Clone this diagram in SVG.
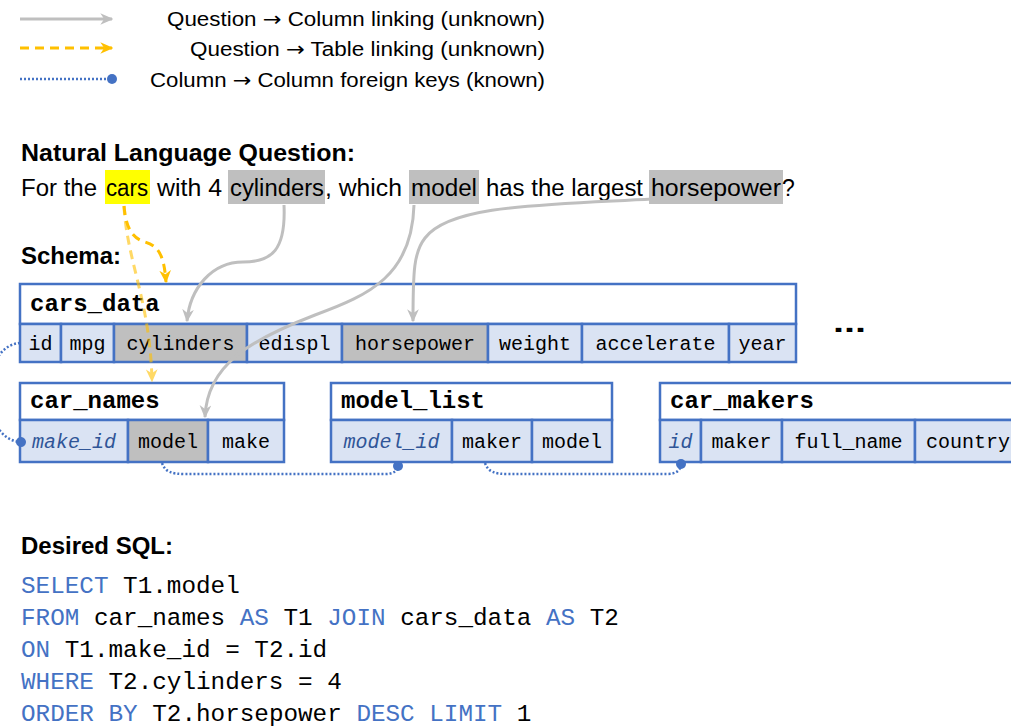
<svg xmlns="http://www.w3.org/2000/svg" width="1011" height="727" viewBox="0 0 1011 727">
<style>
.sans{font-family:"Liberation Sans",Arial,sans-serif;fill:#000}
.arr{font-family:"DejaVu Sans",sans-serif}
.hd{font-family:"Liberation Sans",Arial,sans-serif;font-weight:bold;font-size:23px;fill:#000}
.sql{font-family:"Liberation Mono","DejaVu Sans Mono",monospace;font-size:24.3px;fill:#000}
.kw{fill:#4472C4}
.title{font-family:"Liberation Mono","DejaVu Sans Mono",monospace;font-size:24px;font-weight:bold;fill:#000}
.col{font-family:"Liberation Mono","DejaVu Sans Mono",monospace;font-size:20px;fill:#000;text-anchor:middle}
.key{font-style:italic;fill:#2F5597}
.hdr{fill:#fff;stroke:#4472C4;stroke-width:2.5}
.cell{fill:#DAE3F3;stroke:#4472C4;stroke-width:2.5}
.sel{fill:#BFBFBF;stroke:#4472C4;stroke-width:2.5}
.gray{fill:none;stroke:#BFBFBF;stroke-width:3}
.yel{fill:none;stroke:#FFC000;stroke-width:3;stroke-dasharray:9 6}
.fk{fill:none;stroke:#4472C4;stroke-width:2.5;stroke-dasharray:2 2}
</style>
<defs>
<marker id="ag" viewBox="0 0 10 10" refX="9" refY="5" markerWidth="13" markerHeight="13" markerUnits="userSpaceOnUse" orient="auto"><path d="M0,0.5 L10,5 L0,9.5 L3,5 z" fill="#BFBFBF"/></marker>
<marker id="ay" viewBox="0 0 10 10" refX="9" refY="5" markerWidth="13" markerHeight="13" markerUnits="userSpaceOnUse" orient="auto"><path d="M0,0.5 L10,5 L0,9.5 L3,5 z" fill="#FFC000"/></marker>
<marker id="dot" viewBox="0 0 10 10" refX="5" refY="5" markerWidth="10" markerHeight="10" markerUnits="userSpaceOnUse" orient="auto"><circle cx="5" cy="5" r="5" fill="#4472C4"/></marker>
</defs>
<rect width="1011" height="727" fill="#fff"/>

<g id="legend">
<path class="gray" d="M20,19 L112,19" marker-end="url(#ag)"/>
<path class="yel" d="M20,48 L112,48" marker-end="url(#ay)"/>
<path class="fk" d="M20,79 L112,79" marker-end="url(#dot)"/>
<text class="sans" font-size="20" x="545" y="26" text-anchor="end" textLength="378" lengthAdjust="spacingAndGlyphs">Question <tspan class="arr">→</tspan> Column linking (unknown)</text>
<text class="sans" font-size="20" x="545" y="56" text-anchor="end" textLength="355" lengthAdjust="spacingAndGlyphs">Question <tspan class="arr">→</tspan> Table linking (unknown)</text>
<text class="sans" font-size="20" x="545" y="87" text-anchor="end" textLength="395" lengthAdjust="spacingAndGlyphs">Column <tspan class="arr">→</tspan> Column foreign keys (known)</text>
</g>

<g id="question">
<text class="hd" x="21" y="161" textLength="334" lengthAdjust="spacingAndGlyphs">Natural Language Question:</text>
<rect x="105" y="170" width="45" height="34" fill="#FFFF00"/>
<rect x="228" y="170" width="97" height="34" fill="#BFBFBF"/>
<rect x="409" y="170" width="70" height="34" fill="#BFBFBF"/>
<rect x="649" y="170" width="134" height="34" fill="#BFBFBF"/>
<text class="sans" font-size="23" y="196"><tspan x="21" textLength="76" lengthAdjust="spacingAndGlyphs">For the</tspan><tspan x="106" textLength="42" lengthAdjust="spacingAndGlyphs">cars</tspan><tspan x="157" textLength="65" lengthAdjust="spacingAndGlyphs">with 4</tspan><tspan x="230" textLength="94" lengthAdjust="spacingAndGlyphs">cylinders</tspan><tspan x="325" textLength="77" lengthAdjust="spacingAndGlyphs">, which</tspan><tspan x="411" textLength="66" lengthAdjust="spacingAndGlyphs">model</tspan><tspan x="486" textLength="157" lengthAdjust="spacingAndGlyphs">has the largest</tspan><tspan x="651" textLength="130" lengthAdjust="spacingAndGlyphs">horsepower</tspan><tspan x="782">?</tspan></text>
<text class="hd" x="21" y="264" textLength="100" lengthAdjust="spacingAndGlyphs">Schema:</text>
</g>

<g id="cars_data">
<rect class="hdr" x="20" y="284" width="776" height="40"/>
<text class="title" x="30" y="311">cars_data</text>
<rect class="cell" x="20" y="324" width="41" height="38"/>
<rect class="cell" x="61" y="324" width="53" height="38"/>
<rect class="sel" x="114" y="324" width="133" height="38"/>
<rect class="cell" x="247" y="324" width="95" height="38"/>
<rect class="sel" x="342" y="324" width="146" height="38"/>
<rect class="cell" x="488" y="324" width="94" height="38"/>
<rect class="cell" x="582" y="324" width="147" height="38"/>
<rect class="cell" x="729" y="324" width="67" height="38"/>
<text class="col" x="40.5" y="350">id</text>
<text class="col" x="87.5" y="350">mpg</text>
<text class="col" x="180.5" y="350">cylinders</text>
<text class="col" x="294.5" y="350">edispl</text>
<text class="col" x="415" y="350">horsepower</text>
<text class="col" x="535" y="350">weight</text>
<text class="col" x="655.5" y="350">accelerate</text>
<text class="col" x="762.5" y="350">year</text>
</g>

<g id="more">
<text x="833" y="332" font-family="Liberation Sans,Arial,sans-serif" font-weight="bold" font-size="28" textLength="33" lengthAdjust="spacingAndGlyphs">...</text>
</g>

<g id="car_names">
<rect class="hdr" x="20" y="383" width="264" height="37"/>
<text class="title" x="30" y="408">car_names</text>
<rect class="cell" x="20" y="420" width="108" height="42"/>
<rect class="sel" x="128" y="420" width="80" height="42"/>
<rect class="cell" x="208" y="420" width="76" height="42"/>
<text class="col key" x="74" y="448">make_id</text>
<text class="col" x="168" y="448">model</text>
<text class="col" x="246" y="448">make</text>
</g>

<g id="model_list">
<rect class="hdr" x="331" y="383" width="281" height="37"/>
<text class="title" x="341" y="408">model_list</text>
<rect class="cell" x="331" y="420" width="121" height="42"/>
<rect class="cell" x="452" y="420" width="80" height="42"/>
<rect class="cell" x="532" y="420" width="80" height="42"/>
<text class="col key" x="391.5" y="448">model_id</text>
<text class="col" x="492" y="448">maker</text>
<text class="col" x="572" y="448">model</text>
</g>

<g id="car_makers">
<rect class="hdr" x="660" y="383" width="380" height="37"/>
<text class="title" x="670" y="408">car_makers</text>
<rect class="cell" x="660" y="420" width="41" height="42"/>
<rect class="cell" x="701" y="420" width="81" height="42"/>
<rect class="cell" x="782" y="420" width="133" height="42"/>
<rect class="cell" x="915" y="420" width="125" height="42"/>
<text class="col key" x="680.5" y="448">id</text>
<text class="col" x="741.5" y="448">maker</text>
<text class="col" x="848.5" y="448">full_name</text>
<text class="col" x="968" y="448">country</text>
</g>

<g id="connectors">
<path class="yel" d="M124,206 C127,262 150,300 152,381" opacity="0.6" marker-end="url(#ay)"/>
<path class="yel" d="M124,206 C126,228 132,238 145,242 C158,246 164,254 166,282" marker-end="url(#ay)"/>
<path class="gray" d="M284,205 C286,250 272,262 243,262 C212,262 190,288 187,321" marker-end="url(#ag)"/>
<path class="gray" d="M414,205 C412,275 370,295 315,315 C250,340 207,365 205,417" marker-end="url(#ag)"/>
<path class="gray" d="M652,199 C540,205 450,205 425,238 C414,252 413,270 413,321" marker-end="url(#ag)"/>
<path class="fk" d="M20,343 C-22,346 -22,440 21,442" marker-end="url(#dot)"/>
<path class="fk" d="M162,463 C165,472 172,474 185,474 L385,474 C393,474 398,471 398,466" marker-end="url(#dot)"/>
<path class="fk" d="M485,463 C488,472 495,474 508,474 L668,474 C676,474 681,470 681,464" marker-end="url(#dot)"/>
</g>

<g id="sql">
<text class="hd" x="21" y="554" textLength="152" lengthAdjust="spacingAndGlyphs">Desired SQL:</text>
<text class="sql" x="21" y="593" xml:space="preserve"><tspan class="kw">SELECT</tspan> T1.model</text>
<text class="sql" x="21" y="625" xml:space="preserve"><tspan class="kw">FROM</tspan> car_names <tspan class="kw">AS</tspan> T1 <tspan class="kw">JOIN</tspan> cars_data <tspan class="kw">AS</tspan> T2</text>
<text class="sql" x="21" y="657" xml:space="preserve"><tspan class="kw">ON</tspan> T1.make_id = T2.id</text>
<text class="sql" x="21" y="689" xml:space="preserve"><tspan class="kw">WHERE</tspan> T2.cylinders = 4</text>
<text class="sql" x="21" y="721" xml:space="preserve"><tspan class="kw">ORDER BY</tspan> T2.horsepower <tspan class="kw">DESC LIMIT</tspan> 1</text>
</g>
</svg>
